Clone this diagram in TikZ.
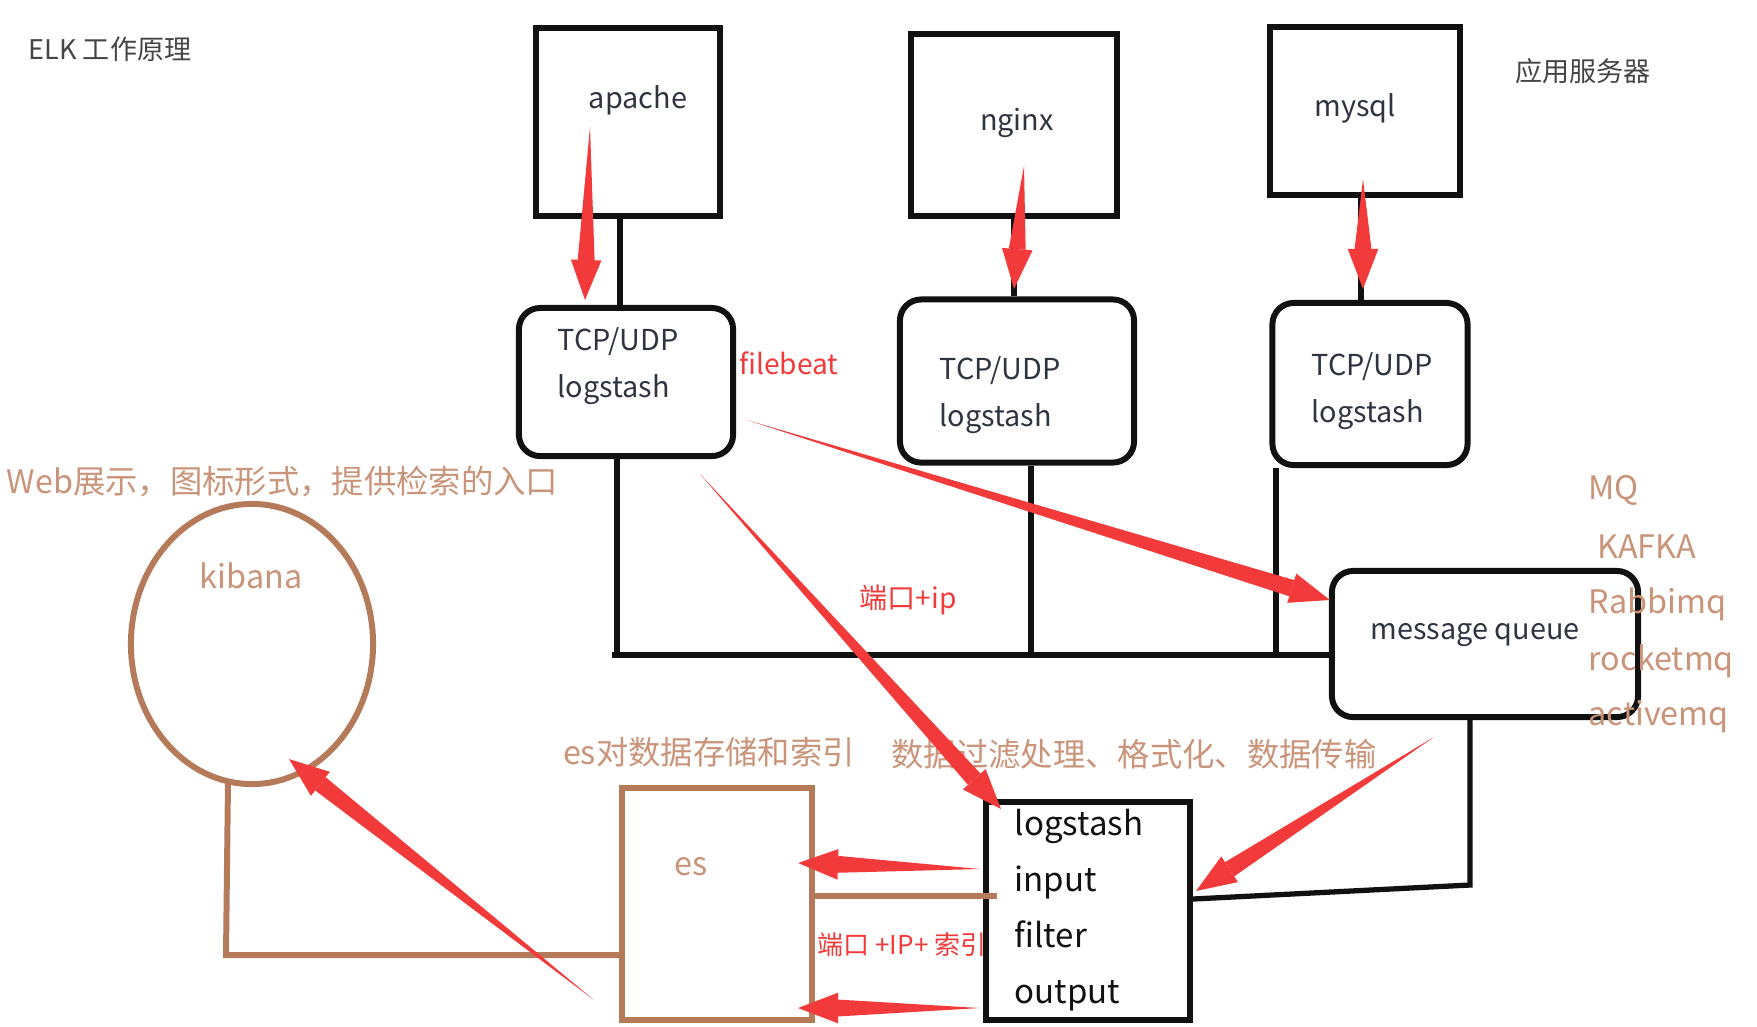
\documentclass[tikz,border=0pt]{standalone}
\usepackage{fontspec}
\setmainfont{Noto Sans CJK SC}
\usetikzlibrary{positioning,arrows.meta,calc,shapes.geometric}
\definecolor{cInk}  {HTML}{111111}
\definecolor{cRed}  {HTML}{F23A3A}
\definecolor{cBrown}{HTML}{B57A5A}
\definecolor{cTan}  {HTML}{C99479}
\definecolor{cGray} {HTML}{454545}
\definecolor{cText} {HTML}{2E3440}
% tapered red arrow: thin at the tail, wide at the head
\newcommand\redar[2]{%
  \fill[cRed] (#1) -- ($(#2)!4mm!(#1)!2.4pt!90:(#1)$)
                   -- ($(#2)!4mm!(#1)!2.4pt!-90:(#1)$) -- cycle;
  \draw[ar] ($(#2)!6mm!(#1)$) -- (#2);}

\begin{document}
\begin{tikzpicture}[
    x=0.01cm,y=-0.01cm,
    >={Triangle[length=4mm,width=3mm]},
    srv/.style={draw=cInk,line width=1.7pt,inner sep=0pt},
    lsb/.style={srv,rounded corners=6pt},
    txt/.style={font=\fontsize{8.2}{13.4}\selectfont,text=cText,inner sep=0pt},
    big/.style={font=\fontsize{9.4}{15.9}\selectfont,text=cInk,inner sep=0pt},
    tan/.style={font=\fontsize{9.2}{10}\selectfont,text=cTan,inner sep=0pt},
    capt/.style={font=\fontsize{7.7}{9}\selectfont,text=cGray,inner sep=0pt},
    redt/.style={font=\fontsize{8}{10}\selectfont,text=cRed,inner sep=0pt},
    wire/.style={cInk,line width=1.5pt},
    bwire/.style={cBrown,line width=1.7pt},
    ar/.style={->,cRed,line width=0.6pt},
  ]
  \useasboundingbox (0,0) rectangle (1757,1026);

  % ---------- TITLES ----------
  \node[capt] (title) at (110,49) {ELK 工作原理};
  \node[capt] (appsrv) at (1583,71) {应用服务器};

  % ---------- APPLICATION SERVERS ----------
  \node[srv,minimum width=1.83cm,minimum height=1.88cm] (apache) at (628,122) {};
  \node[srv,minimum width=2.05cm,minimum height=1.82cm] (nginx)  at (1014,125) {};
  \node[srv,minimum width=1.89cm,minimum height=1.67cm] (mysql)  at (1365,111) {};
  \node[txt] (apacheT) at (638,100) {apache};
  \node[txt] (nginxT)  at (1017,123) {nginx};
  \node[txt] (mysqlT)  at (1355,108) {mysql};

  % ---------- LOGSTASH SHIPPERS ----------
  \node[lsb,minimum width=2.14cm,minimum height=1.48cm] (ls1) at (626,382) {};
  \node[lsb,minimum width=2.34cm,minimum height=1.63cm] (ls2) at (1017,381) {};
  \node[lsb,minimum width=1.95cm,minimum height=1.62cm] (ls3) at (1370,384) {};
  \node[txt,align=left,anchor=west] (ls1T) at (557,366) {TCP/UDP\\logstash};
  \node[txt,align=left,anchor=west] (ls2T) at (939,395) {TCP/UDP\\logstash};
  \node[txt,align=left,anchor=west] (ls3T) at (1311,391) {TCP/UDP\\logstash};
  \node[redt] (fb) at (789,363) {filebeat};

  \draw[wire] (apache.south -| 620,0) -- (ls1.north -| 620,0);
  \draw[wire] (nginx.south) -- (ls2.north -| nginx.south);
  \draw[wire] (mysql.south -| 1361,0) -- (ls3.north -| 1361,0);

  % ---------- BUS + MESSAGE QUEUE ----------
  \node[lsb,minimum width=3.06cm,minimum height=1.46cm] (mq) at (1485,644) {};
  \node[txt] (mqT) at (1475,635) {message queue};
  \coordinate (bus) at (612,655);
  \draw[wire] (bus) -- (bus -| mq.west);
  \draw[wire] (ls1.south -| 617,0) -- (bus -| 617,0);
  \draw[wire] (ls2.south -| 1031,0) -- (bus -| 1031,0);
  \draw[wire] (ls3.south -| 1276,0) -- (bus -| 1276,0);

  \node[tan,anchor=west] (mqa) at (1588,490) {MQ};
  \node[tan,anchor=west] (mqb) at (1597,547) {KAFKA};
  \node[tan,anchor=west] (mqc) at (1588,604) {Rabbimq};
  \node[tan,anchor=west] (mqd) at (1588,661) {rocketmq};
  \node[tan,anchor=west] (mqe) at (1588,717) {activemq};

  % ---------- INDEXER LOGSTASH ----------
  \node[srv,minimum width=2.04cm,minimum height=2.17cm] (ls4) at (1088,911) {};
  \node[big,align=left,anchor=west] (ls4T) at (1014,910) {logstash\\input\\filter\\output};
  \node[tan] (ls4C) at (1134,754) {数据过滤处理、格式化、数据传输};
  \coordinate (mqdn) at (1470,885);
  \draw[wire] (mq.south -| mqdn) -- (mqdn) -- ($(ls4.east)+(0,-12)$);

  % ---------- ES + KIBANA ----------
  \node[draw=cBrown,line width=1.7pt,inner sep=0pt,minimum width=1.89cm,
        minimum height=2.32cm] (es) at (717,904) {};
  \node[tan] (esT) at (691,867) {es};
  \node[tan] (esC) at (709,752) {es对数据存储和索引};
  \node[redt,font=\fontsize{7.4}{9}\selectfont] (idx) at (902,945) {端口 +IP+ 索引};

  \node[ellipse,draw=cBrown,line width=1.7pt,inner sep=0pt,minimum width=2.42cm,
        minimum height=2.8cm] (kib) at (252,644) {};
  \node[tan] (kibT) at (251,576) {kibana};
  \node[tan,anchor=west] (kibC) at (6,482) {Web展示，图标形式，提供检索的入口};

  \coordinate (kb) at (228,782);
  \coordinate (kc) at (226,955);
  \draw[bwire] (kb) -- (kc) -- (kc -| es.west);
  \draw[bwire] (es.east |- 0,896) -- (997,896);

  % ---------- RED FLOW ARROWS ----------
  \coordinate (t1) at (590,127);  \coordinate (h1) at (585,300);
  \coordinate (t2) at (1024,166); \coordinate (h2) at (1014,289);
  \coordinate (t3) at (1363,179); \coordinate (h3) at (1363,289);
  \coordinate (t4) at (747,420);  \coordinate (h4) at (1330,600);
  \coordinate (t5) at (700,474);  \coordinate (h5) at (1001,809);
  \coordinate (t6) at (1434,737); \coordinate (h6) at (1196,891);
  \coordinate (t7) at (980,869);  \coordinate (h7) at (798,863);
  \coordinate (t8) at (980,1008); \coordinate (h8) at (798,1008);
  \coordinate (t9) at (594,1000); \coordinate (h9) at (289,759);
  \foreach \i in {1,...,9} {\redar{t\i}{h\i}}
  \node[redt] (port) at (908,600) {端口+ip};

\end{tikzpicture}
\end{document}
